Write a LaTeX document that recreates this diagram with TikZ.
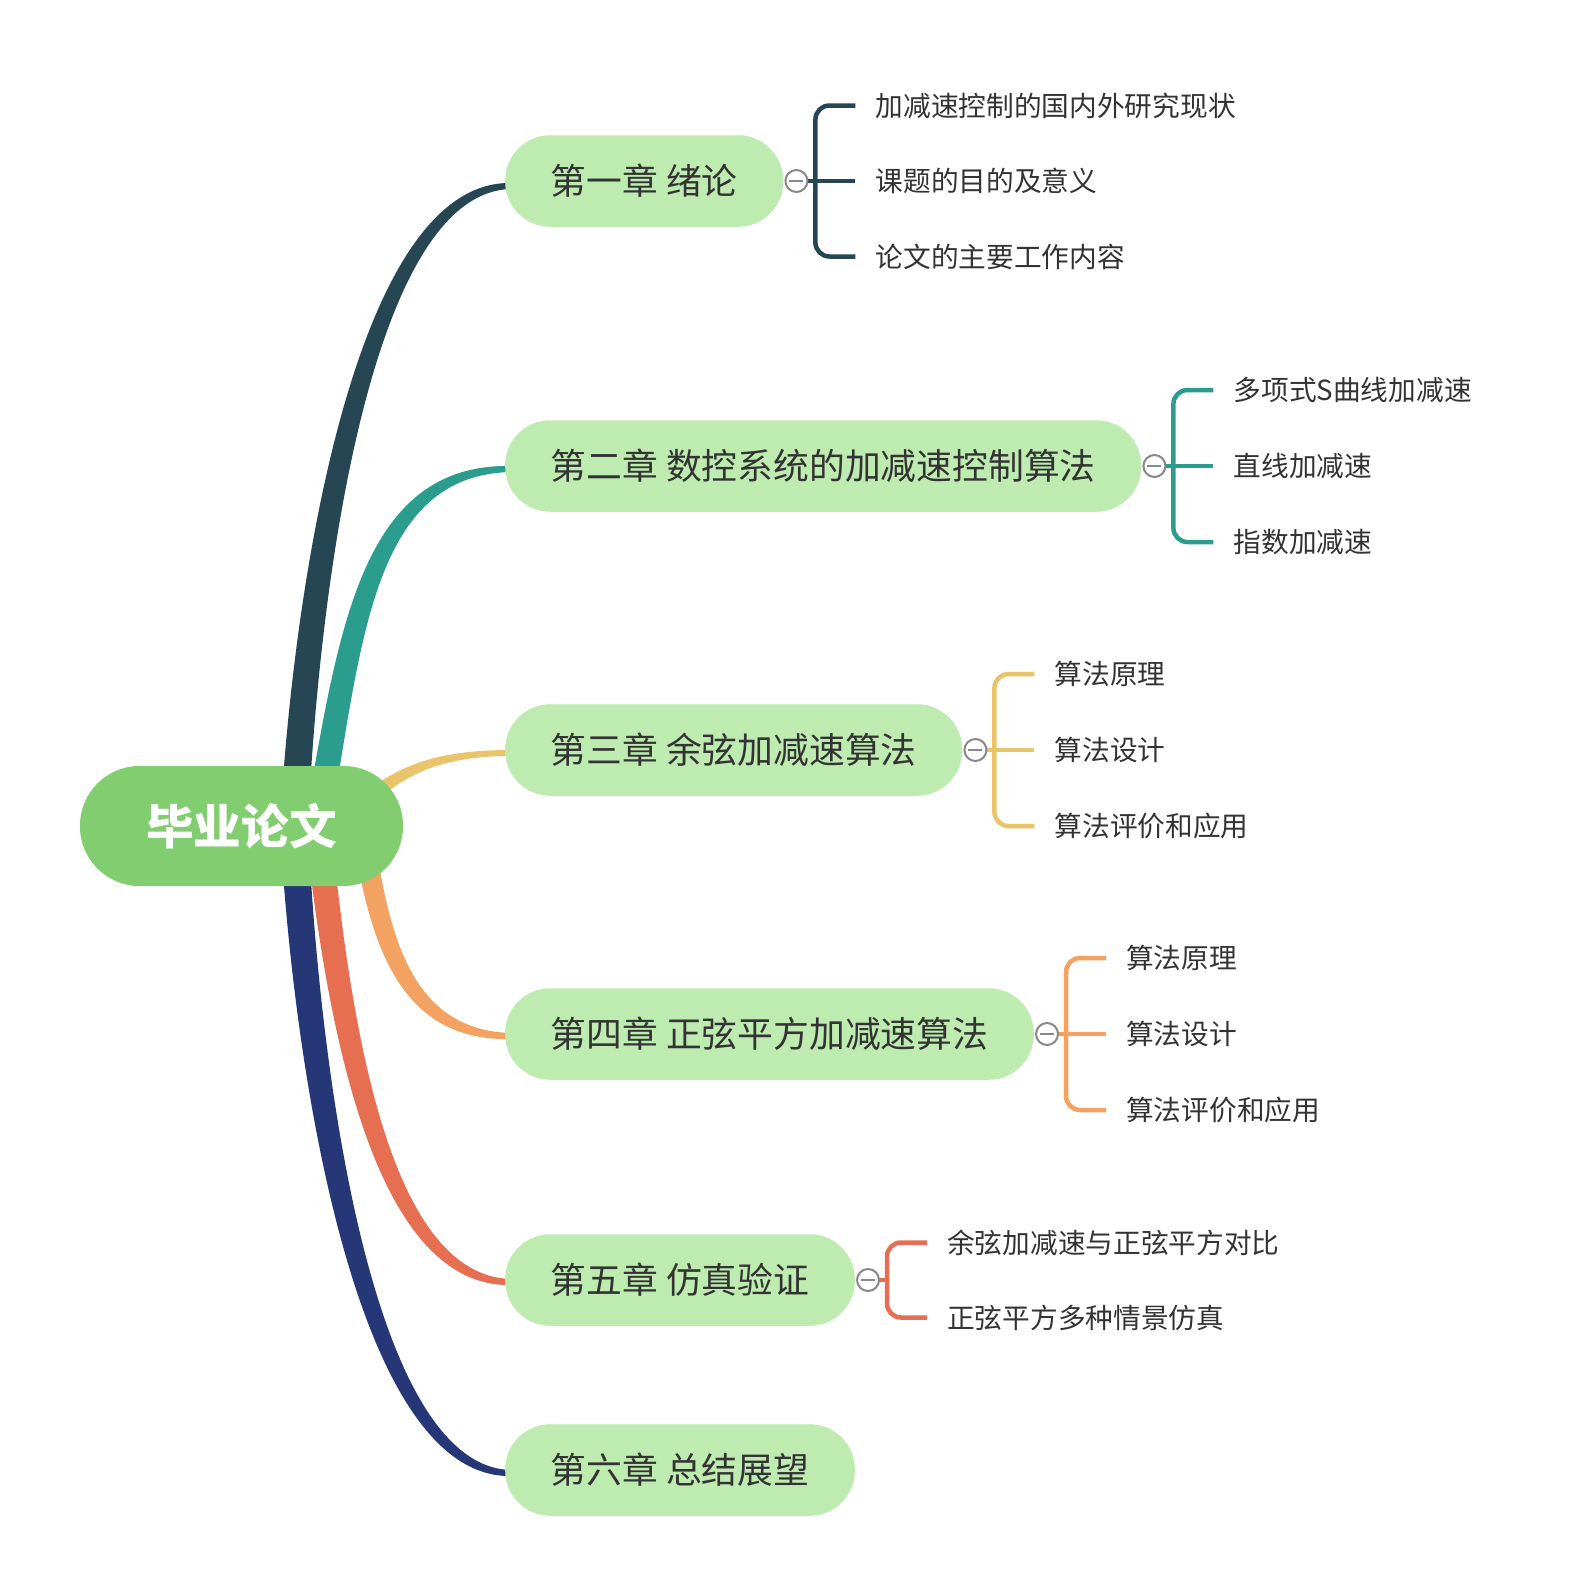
\documentclass[tikz,border=0pt]{standalone}
\usepackage{fontspec}
\setmainfont{Noto Sans CJK SC}
\usetikzlibrary{calc}
\definecolor{cA}{HTML}{264653}
\definecolor{cB}{HTML}{2A9D8F}
\definecolor{cC}{HTML}{E9C46A}
\definecolor{cD}{HTML}{F4A261}
\definecolor{cE}{HTML}{E76F51}
\definecolor{cF}{HTML}{263777}
\definecolor{rootgreen}{HTML}{82CD6F}
\definecolor{chapgreen}{HTML}{BDEBB0}
\definecolor{txt}{HTML}{333333}
\definecolor{collgray}{HTML}{888888}
\pgfdeclarelayer{bgzero}
\pgfdeclarelayer{bgone}
\pgfsetlayers{bgzero,bgone,main}
\newcommand\mmbranch[7]{%
  \pgfmathsetmacro\mmA{#6}%
  \pgfmathsetmacro\mmB{#6-1}%
  \pgfmathsetmacro\mmC{6*(#7)}%
  \pgfmathsetmacro\mmD{3*(#7)}%
  \pgfmathsetmacro\mmE{-6*(#7)}%
  \pgfmathsetmacro\mmF{-3*(#7)}%
  \fill[#1] ($#2+(-\mmA,0)$) .. controls ($#3+(-\mmB,0)$) and ($#4+(-8,\mmC)$) .. ($#5+(0,\mmD)$)
    -- ($#5+(0,\mmF)$) .. controls ($#4+(8,\mmE)$) and ($#3+(\mmB,0)$) .. ($#2+(\mmA,0)$) -- cycle;}
\begin{document}
\begin{tikzpicture}[x=1pt,y=-1pt,
  rootn/.style={rounded corners=59.5, fill=rootgreen, minimum width=323, minimum height=120,
    inner sep=0, text=white, font=\fontsize{47.6pt}{50pt}\selectfont\bfseries},
  chap/.style={rounded corners=45, fill=chapgreen, minimum height=91.5, inner xsep=45.5,
    inner ysep=0, text=txt, font=\fontsize{35.8pt}{40pt}\selectfont, anchor=west},
  sub/.style={inner sep=0, text=txt, font=\fontsize{27.7pt}{30pt}\selectfont, anchor=west},
  coll/.style={circle, draw=collgray, line width=2, fill=white, minimum size=22, inner sep=0,
    path picture={\draw[collgray, line width=2] ([xshift=4pt]path picture bounding box.west) -- ([xshift=-4pt]path picture bounding box.east);}},
  br/.style={line width=4.5, rounded corners=14}]
\begin{pgfonlayer}{bgzero}
\fill[white] (0,0) rectangle (1576,1596);
\end{pgfonlayer}
\useasboundingbox (0,0) rectangle (1576,1596);

% root and chapters
\node[rootn] (root) at (241.5,826) {毕业论文};
\node[chap] (c1) at (505,181) {第一章 绪论};
\node[chap] (c2) at (505,466) {第二章 数控系统的加减速控制算法};
\node[chap] (c3) at (505,750) {第三章 余弦加减速算法};
\node[chap] (c4) at (505,1034) {第四章 正弦平方加减速算法};
\node[chap] (c5) at (505,1280) {第五章 仿真验证};
\node[chap] (c6) at (505,1470) {第六章 总结展望};

% branch anchors
\coordinate (s1) at ($(root.center)+(52.5,0)$);
\coordinate (s2) at ($(root.center)+(75.5,0)$);
\coordinate (s3) at ($(root.center)+(110.5,-10)$);
\coordinate (s4) at ($(root.center)+(120.5,0)$);
\coordinate (s5) at ($(root.center)+(76.5,0)$);
\coordinate (s6) at ($(root.center)+(52.5,0)$);
\coordinate (e1) at ($(c1.west)+(6,5)$);
\coordinate (e2) at ($(c2.west)+(6,3)$);
\coordinate (e3) at ($(c3.west)+(6,3)$);
\coordinate (e4) at ($(c4.west)+(6,2)$);
\coordinate (e5) at ($(c5.west)+(6,2)$);
\coordinate (e6) at ($(c6.west)+(6,3)$);

\begin{pgfonlayer}{bgone}
\mmbranch{cA}{(s1)}{(305,600)}{(360,186)}{(e1)}{14}{-1}
\mmbranch{cB}{(s2)}{(350,640)}{(365,469)}{(e2)}{13}{-1}
\mmbranch{cE}{(s5)}{(338,1020)}{(380,1282)}{(e5)}{13}{1}
\mmbranch{cF}{(s6)}{(305,1052)}{(360,1473)}{(e6)}{14}{1}
\mmbranch{cD}{(s4)}{(378,930)}{(400,1036)}{(e4)}{11}{1}
\fill[cC] ($(s3)+(-4,-7)$) .. controls (390,766) and (435,750) .. ($(e3)+(0,-3)$)
  -- ($(e3)+(0,3)$) .. controls (435,756) and (394,778) .. ($(s3)+(4,7)$) -- cycle;
\end{pgfonlayer}

% chapter 1
\node[coll] (k1) at ($(c1.east)+(13,0)$) {};
\node[sub] (s11) at ($(k1.center)+(79,-75.5)$) {加减速控制的国内外研究现状};
\node[sub] (s12) at ($(k1.center)+(79,0)$) {课题的目的及意义};
\node[sub] (s13) at ($(k1.center)+(79,75.5)$) {论文的主要工作内容};
\begin{pgfonlayer}{bgone}
\draw[br, cA] (k1.center) -- ($(s12.west)+(-20,0)$);
\draw[br, cA] ($(k1.center)+(19,0)$) |- ($(s11.west)+(-20,0)$);
\draw[br, cA] ($(k1.center)+(19,0)$) |- ($(s13.west)+(-20,0)$);
\end{pgfonlayer}

% chapter 2
\node[coll] (k2) at ($(c2.east)+(13,0)$) {};
\node[sub] (s21) at ($(k2.center)+(79,-76)$) {多项式S曲线加减速};
\node[sub] (s22) at ($(k2.center)+(79,0)$) {直线加减速};
\node[sub] (s23) at ($(k2.center)+(79,76)$) {指数加减速};
\begin{pgfonlayer}{bgone}
\draw[br, cB] (k2.center) -- ($(s22.west)+(-20,0)$);
\draw[br, cB] ($(k2.center)+(19,0)$) |- ($(s21.west)+(-20,0)$);
\draw[br, cB] ($(k2.center)+(19,0)$) |- ($(s23.west)+(-20,0)$);
\end{pgfonlayer}

% chapter 3
\node[coll] (k3) at ($(c3.east)+(13,0)$) {};
\node[sub] (s31) at ($(k3.center)+(79,-76)$) {算法原理};
\node[sub] (s32) at ($(k3.center)+(79,0)$) {算法设计};
\node[sub] (s33) at ($(k3.center)+(79,76)$) {算法评价和应用};
\begin{pgfonlayer}{bgone}
\draw[br, cC] (k3.center) -- ($(s32.west)+(-20,0)$);
\draw[br, cC] ($(k3.center)+(19,0)$) |- ($(s31.west)+(-20,0)$);
\draw[br, cC] ($(k3.center)+(19,0)$) |- ($(s33.west)+(-20,0)$);
\end{pgfonlayer}

% chapter 4
\node[coll] (k4) at ($(c4.east)+(13,0)$) {};
\node[sub] (s41) at ($(k4.center)+(79,-76)$) {算法原理};
\node[sub] (s42) at ($(k4.center)+(79,0)$) {算法设计};
\node[sub] (s43) at ($(k4.center)+(79,76)$) {算法评价和应用};
\begin{pgfonlayer}{bgone}
\draw[br, cD] (k4.center) -- ($(s42.west)+(-20,0)$);
\draw[br, cD] ($(k4.center)+(19,0)$) |- ($(s41.west)+(-20,0)$);
\draw[br, cD] ($(k4.center)+(19,0)$) |- ($(s43.west)+(-20,0)$);
\end{pgfonlayer}

% chapter 5
\node[coll] (k5) at ($(c5.east)+(13,0)$) {};
\node[sub] (s51) at ($(k5.center)+(79,-37.5)$) {余弦加减速与正弦平方对比};
\node[sub] (s52) at ($(k5.center)+(79,37.5)$) {正弦平方多种情景仿真};
\begin{pgfonlayer}{bgone}
\draw[br, cE] (k5.center) -- ($(k5.center)+(21,0)$);
\draw[br, cE] ($(k5.center)+(19,0)$) |- ($(s51.west)+(-20,0)$);
\draw[br, cE] ($(k5.center)+(19,0)$) |- ($(s52.west)+(-20,0)$);
\end{pgfonlayer}
\end{tikzpicture}
\end{document}
